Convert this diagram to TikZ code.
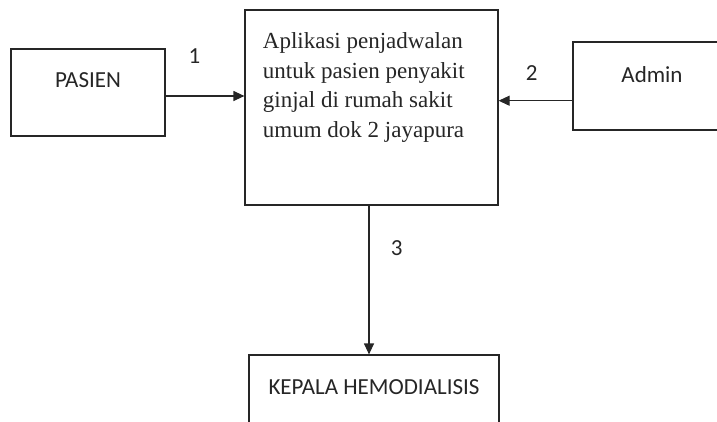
\documentclass[tikz,border=0pt]{standalone}
\usepackage{fontspec}
\setmainfont{Carlito}
\newfontfamily\serifbox{Liberation Serif}
\usetikzlibrary{arrows.meta,positioning}

\begin{document}
\begin{tikzpicture}[x=1pt, y=-1pt, >={Triangle[length=11pt,width=10pt]},
    box/.style={draw=black!85, line width=1.2pt, rectangle, fill=white,
        font=\fontsize{23}{28}\selectfont, text=black!85, text height=15pt},
    flow/.style={->, draw=black!85, line width=1.2pt},
    num/.style={font=\fontsize{23}{28}\selectfont, text=black!85}]
    \useasboundingbox (0,0) rectangle (717,421);
    \clip (0,0) rectangle (717,421);

    % Entities and the system box
    \node [box, minimum width=154pt, minimum height=87pt, text depth=26pt] (pasien) at (88,92.5)  {PASIEN};
    \node [box, minimum width=253pt, minimum height=195pt]                 (app)    at (371.5,107.5) {};
    \node [box, minimum width=158pt, minimum height=88pt, text depth=23pt] (admin)  at (652,86)   {Admin};
    \node [box, minimum width=250pt, minimum height=87pt, text depth=24pt] (kepala) at (374,398.5) {KEPALA HEMODIALISIS};
    \node [anchor=north west, inner sep=0pt, align=left, text=black!85,
        font=\serifbox\fontsize{23}{29.5}\selectfont] (apptext) at (262.7,32.5)
        {Aplikasi penjadwalan\\untuk pasien penyakit\\ginjal di rumah sakit\\umum dok 2 jayapura};

    % Flows
    \coordinate (p1) at ([yshift=-3.5pt]pasien.east);
    \coordinate (p2) at ([yshift=-14.7pt]admin.west);
    \coordinate (p3) at ([xshift=-2.5pt]app.south);
    \draw [flow] (p1) -- (p1 -| app.west);
    \draw [flow] (p2) -- (p2 -| app.east);
    \draw [flow] (p3) -- (p3 |- kepala.north);

    % Flow numbers
    \node [num] (n1) at (194.5,56)  {1};
    \node [num] (n2) at (531.7,73)  {2};
    \node [num] (n3) at (396.7,248) {3};
\end{tikzpicture}
\end{document}
